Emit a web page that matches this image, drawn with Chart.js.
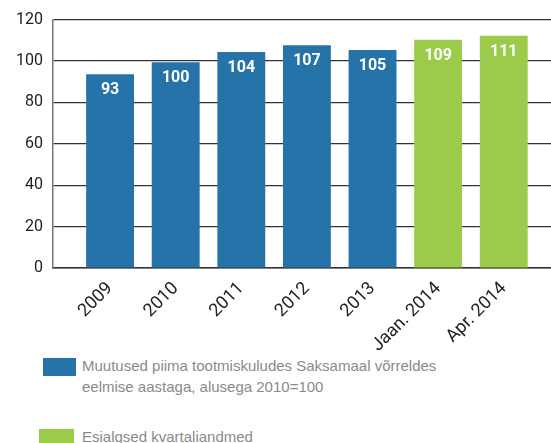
<!DOCTYPE html>
<html>
<head>
<meta charset="utf-8">
<script src="https://cdn.jsdelivr.net/npm/chart.js@4.4.1/dist/chart.umd.min.js"></script>
<style>
	body { margin: 0; background: #fff; overflow: hidden; }
	#wrap { position: relative; width: 551px; height: 443px; }
	#myChart { position: absolute; left: 0; top: 0; }
	.box { position: absolute; }
	.txt { position: absolute; left: 82px; font: 15px "Liberation Sans", Arial, sans-serif; line-height: 21px; color: #8a8a8a; white-space: nowrap; }
</style>
</head>
<body>
<div id="wrap">
	<canvas id="myChart" width="551" height="352"></canvas>
	<div class="box" style="left:43px;top:358px;width:33px;height:18px;background:#2673aa"></div>
	<div class="txt" style="top:355px">Muutused piima tootmiskuludes Saksamaal võrreldes<br>eelmise aastaga, alusega 2010=100</div>
	<div class="box" style="left:39px;top:429px;width:35px;height:20px;background:#9bcb4b"></div>
	<div class="txt" style="top:426px">Esialgsed kvartaliandmed</div>
</div>
<script>
(() => {
	'use strict'

	const labels = ['2009', '2010', '2011', '2012', '2013', 'Jaan. 2014', 'Apr. 2014'];
	// bar heights
	const values = [93.6, 99.4, 104.3, 107.6, 105.3, 110.3, 112.2];
	// numbers printed on the bars
	const valueLabels = ['93', '100', '104', '107', '105', '109', '111'];
	// yearly data vs preliminary quarterly data
	const kinds = ['year', 'year', 'year', 'year', 'year', 'quarter', 'quarter'];
	const yTicks = [0, 20, 40, 60, 80, 100, 120];

	const BLUE = '#2673aa';
	const GREEN = '#9bcb4b';

	const barLabels = {
		id: 'barLabels',
		afterDatasetsDraw(chart) {
			const c = chart.ctx;
			const meta = chart.getDatasetMeta(0);
			c.save();
			c.fillStyle = '#fff';
			c.font = 'bold 16px Roboto, sans-serif';
			c.textAlign = 'center';
			c.textBaseline = 'middle';
			meta.data.forEach((bar, i) => {
				c.fillText(valueLabels[i], bar.x, bar.y + 16);
			});
			c.restore();
		}
	};

	const ctx = document.getElementById('myChart');
	// eslint-disable-next-line no-unused-vars
	const myChart = new Chart(ctx, {
		type: 'bar',
		data: {
			datasets: [{
				data: values.map((v, i) => ({ x: i, y: v })),
				backgroundColor: kinds.map(k => k === 'year' ? BLUE : GREEN),
				barPercentage: 0.73,
				categoryPercentage: 1
			}]
		},
		options: {
			responsive: false,
			animation: false,
			layout: { padding: { top: 7, right: 0, left: 0, bottom: 0 } },
			plugins: {
				legend: { display: false },
				tooltip: { enabled: false }
			},
			scales: {
				x: {
					type: 'linear',
					offset: false,
					min: -0.87,
					max: 6.72,
					afterBuildTicks: (axis) => {
						axis.ticks = labels.map((_, i) => ({ value: i }));
					},
					afterFit: (axis) => { axis.height = 352 - 268; },
					grid: { display: false },
					border: { color: '#333', width: 1.5 },
					ticks: {
						autoSkip: false,
						maxRotation: 45,
						minRotation: 45,
						padding: 2,
						color: '#222',
						font: { family: 'Roboto', size: 18 },
						callback: (v) => labels[v]
					}
				},
				y: {
					min: 0,
					max: 120,
					afterBuildTicks: (axis) => {
						axis.ticks = yTicks.map(v => ({ value: v }));
					},
					afterFit: (axis) => { axis.width = 53; },
					grid: { color: '#333', lineWidth: 1.2, drawTicks: false },
					border: { color: '#777', width: 1.5 },
					ticks: {
						padding: 10,
						color: '#222',
						font: { family: 'Roboto', size: 16 }
					}
				}
			}
		},
		plugins: [barLabels]
	});
})();
</script>
</body>
</html>
